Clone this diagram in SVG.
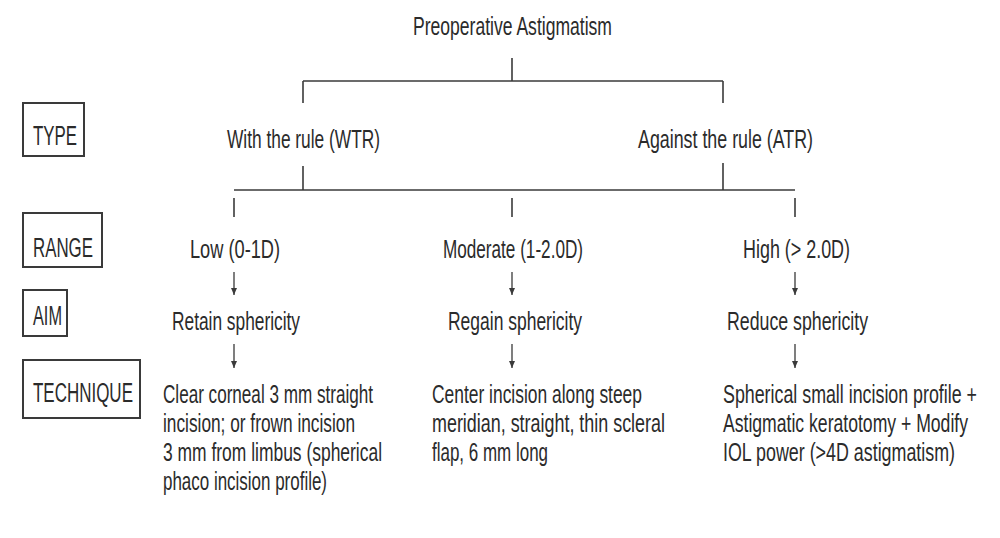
<svg xmlns="http://www.w3.org/2000/svg" width="1000" height="538" viewBox="0 0 1000 538">
  <style>
    .t { font-family: "Liberation Sans", Arial, sans-serif; font-size: 25px; fill: #2b2b2b; }
    .lbl { font-family: "Liberation Sans", Arial, sans-serif; font-size: 27px; fill: #2b2b2b; }
    .box { fill: none; stroke: #3a3a3a; stroke-width: 2; }
    .ln { fill: none; stroke: #3a3a3a; stroke-width: 1.6; }
    .arr { fill: none; stroke: #3a3a3a; stroke-width: 1.3; marker-end: url(#ah); }
  </style>
  <defs>
    <marker id="ah" viewBox="0 0 8 8" refX="7.5" refY="4" markerWidth="8" markerHeight="8" markerUnits="userSpaceOnUse" orient="auto">
      <path d="M0,0.8 L7.5,4 L0,7.2 Z" fill="#3a3a3a"/>
    </marker>
  </defs>
  <rect width="1000" height="538" fill="#ffffff"/>

  <g id="connectors">
    <line class="ln" x1="512" y1="58" x2="512" y2="81"/>
    <line class="ln" x1="303" y1="81" x2="723" y2="81"/>
    <line class="ln" x1="303" y1="81" x2="303" y2="103"/>
    <line class="ln" x1="723" y1="81" x2="723" y2="103"/>
    <line class="ln" x1="303" y1="166" x2="303" y2="190"/>
    <line class="ln" x1="723" y1="163" x2="723" y2="190"/>
    <line class="ln" x1="234" y1="190" x2="795" y2="190"/>
    <line class="ln" x1="234" y1="198" x2="234" y2="217"/>
    <line class="ln" x1="512" y1="198" x2="512" y2="217"/>
    <line class="ln" x1="795" y1="198" x2="795" y2="217"/>
    <line class="arr" x1="234" y1="272" x2="234" y2="295"/>
    <line class="arr" x1="512" y1="272" x2="512" y2="295"/>
    <line class="arr" x1="795" y1="272" x2="795" y2="295"/>
    <line class="arr" x1="234" y1="344" x2="234" y2="368"/>
    <line class="arr" x1="512" y1="344" x2="512" y2="368"/>
    <line class="arr" x1="795" y1="344" x2="795" y2="368"/>
  </g>

  <g id="title">
    <text class="t" transform="translate(413,35) scale(0.68,1)" textLength="292.6" lengthAdjust="spacingAndGlyphs">Preoperative Astigmatism</text>
  </g>

  <g id="label-type">
    <rect class="box" x="23" y="103" width="61" height="53"/>
    <text class="lbl" transform="translate(33,145) scale(0.68,1)" textLength="64.7" lengthAdjust="spacingAndGlyphs">TYPE</text>
  </g>
  <g id="label-range">
    <rect class="box" x="23" y="213" width="79" height="54"/>
    <text class="lbl" transform="translate(33,257) scale(0.68,1)" textLength="88.2" lengthAdjust="spacingAndGlyphs">RANGE</text>
  </g>
  <g id="label-aim">
    <rect class="box" x="23" y="290" width="44" height="46"/>
    <text class="lbl" transform="translate(33,325) scale(0.68,1)" textLength="42.6" lengthAdjust="spacingAndGlyphs">AIM</text>
  </g>
  <g id="label-technique">
    <rect class="box" x="23" y="360" width="117" height="58"/>
    <text class="lbl" transform="translate(33,402) scale(0.68,1)" textLength="147" lengthAdjust="spacingAndGlyphs">TECHNIQUE</text>
  </g>

  <g id="wtr">
    <text class="t" transform="translate(227,148) scale(0.68,1)" textLength="225" lengthAdjust="spacingAndGlyphs">With the rule (WTR)</text>
  </g>
  <g id="atr">
    <text class="t" transform="translate(638,148) scale(0.68,1)" textLength="257.4" lengthAdjust="spacingAndGlyphs">Against the rule (ATR)</text>
  </g>

  <g id="range-low">
    <text class="t" transform="translate(190,258) scale(0.68,1)" textLength="132.4" lengthAdjust="spacingAndGlyphs">Low (0-1D)</text>
  </g>
  <g id="range-moderate">
    <text class="t" transform="translate(443,258) scale(0.68,1)" textLength="205.9" lengthAdjust="spacingAndGlyphs">Moderate (1-2.0D)</text>
  </g>
  <g id="range-high">
    <text class="t" transform="translate(743,258) scale(0.68,1)" textLength="157.4" lengthAdjust="spacingAndGlyphs">High (&gt; 2.0D)</text>
  </g>

  <g id="aim-retain">
    <text class="t" transform="translate(172,330) scale(0.68,1)" textLength="188.2" lengthAdjust="spacingAndGlyphs">Retain sphericity</text>
  </g>
  <g id="aim-regain">
    <text class="t" transform="translate(448,330) scale(0.68,1)" textLength="197.1" lengthAdjust="spacingAndGlyphs">Regain sphericity</text>
  </g>
  <g id="aim-reduce">
    <text class="t" transform="translate(727,330) scale(0.68,1)" textLength="207.4" lengthAdjust="spacingAndGlyphs">Reduce sphericity</text>
  </g>

  <g id="tech-low">
    <text class="t" transform="translate(163,403) scale(0.68,1)" textLength="308.8" lengthAdjust="spacingAndGlyphs">Clear corneal 3 mm straight</text>
    <text class="t" transform="translate(163,432) scale(0.68,1)" textLength="282.4" lengthAdjust="spacingAndGlyphs">incision; or frown incision</text>
    <text class="t" transform="translate(163,461) scale(0.68,1)" textLength="322.1" lengthAdjust="spacingAndGlyphs">3 mm from limbus (spherical</text>
    <text class="t" transform="translate(163,490) scale(0.68,1)" textLength="241.2" lengthAdjust="spacingAndGlyphs">phaco incision profile)</text>
  </g>
  <g id="tech-moderate">
    <text class="t" transform="translate(432,403) scale(0.68,1)" textLength="308.8" lengthAdjust="spacingAndGlyphs">Center incision along steep</text>
    <text class="t" transform="translate(432,432) scale(0.68,1)" textLength="342.6" lengthAdjust="spacingAndGlyphs">meridian, straight, thin scleral</text>
    <text class="t" transform="translate(432,461) scale(0.68,1)" textLength="170.6" lengthAdjust="spacingAndGlyphs">flap, 6 mm long</text>
  </g>
  <g id="tech-high">
    <text class="t" transform="translate(723,403) scale(0.68,1)" textLength="373.5" lengthAdjust="spacingAndGlyphs">Spherical small incision profile +</text>
    <text class="t" transform="translate(723,432) scale(0.68,1)" textLength="360.3" lengthAdjust="spacingAndGlyphs">Astigmatic keratotomy + Modify</text>
    <text class="t" transform="translate(723,461) scale(0.68,1)" textLength="341.2" lengthAdjust="spacingAndGlyphs">IOL power (&gt;4D astigmatism)</text>
  </g>
</svg>
